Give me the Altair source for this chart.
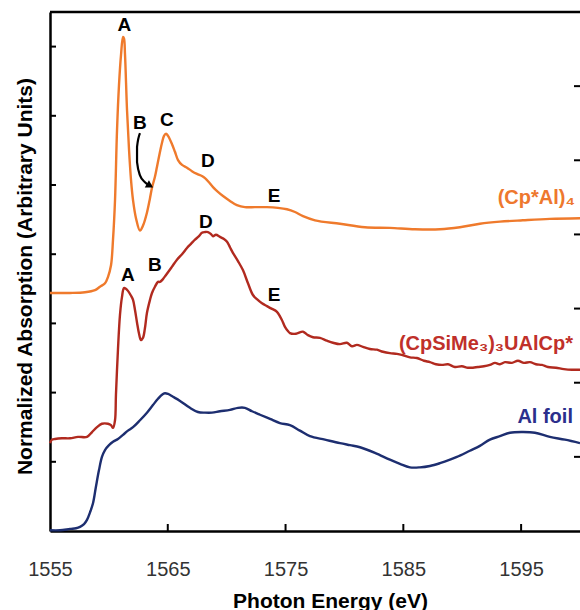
import altair as alt
import pandas as pd

FONT = "Liberation Sans"

# Photon energy (eV) and normalized absorption for each sample
cpal_ev = [1555.00, 1556.70, 1557.97, 1558.82, 1559.24, 1559.67, 1559.92, 1560.18, 1560.35, 1560.52,
           1560.69, 1560.86, 1561.03, 1561.20, 1561.28, 1561.37, 1561.54, 1561.71, 1561.88, 1562.05,
           1562.30, 1562.64, 1562.89, 1563.23, 1563.49, 1563.66, 1563.91, 1564.08, 1564.34, 1564.51,
           1564.68, 1564.85, 1565.02, 1565.36, 1565.61, 1565.87, 1566.21, 1566.63, 1567.05, 1567.48,
           1567.90, 1568.16, 1568.50, 1568.84, 1569.26, 1569.69, 1570.28, 1570.87, 1571.55, 1572.40,
           1573.42, 1574.35, 1575.12, 1575.80, 1576.48, 1577.50, 1579.62, 1581.74, 1583.86, 1585.98,
           1588.11, 1589.80, 1591.50, 1593.20, 1595.15, 1597.44, 1600.00]
cpal_abs = [3.44, 3.44, 3.45, 3.48, 3.53, 3.58, 3.67, 3.84, 4.21, 4.78,
            5.79, 6.45, 6.88, 7.14, 7.12, 6.88, 6.08, 5.51, 5.07, 4.78,
            4.52, 4.34, 4.41, 4.60, 4.81, 4.96, 5.12, 5.26, 5.48, 5.61,
            5.71, 5.74, 5.71, 5.59, 5.48, 5.36, 5.29, 5.25, 5.20, 5.16,
            5.13, 5.10, 5.04, 4.97, 4.90, 4.84, 4.77, 4.71, 4.68, 4.68,
            4.68, 4.67, 4.65, 4.61, 4.55, 4.49, 4.44, 4.39, 4.38, 4.36,
            4.36, 4.39, 4.44, 4.47, 4.49, 4.51, 4.52]

u_ev = [1555.00, 1555.17, 1555.42, 1556.02, 1556.70, 1557.38, 1558.14, 1558.57, 1558.99, 1559.41,
        1559.92, 1560.18, 1560.35, 1560.52, 1560.60, 1560.77, 1560.94, 1561.11, 1561.28, 1561.45,
        1561.62, 1561.88, 1562.05, 1562.22, 1562.39, 1562.56, 1562.72, 1562.89, 1563.06, 1563.23,
        1563.49, 1563.66, 1563.91, 1564.17, 1564.34, 1564.59, 1564.85, 1565.02, 1565.36, 1565.78,
        1566.21, 1566.63, 1566.97, 1567.31, 1567.65, 1567.90, 1568.16, 1568.41, 1568.67, 1568.84,
        1569.09, 1569.43, 1569.77, 1570.03, 1570.28, 1570.53, 1570.96, 1571.38, 1571.81, 1572.23,
        1572.57, 1573.00, 1573.42, 1573.85, 1574.19, 1574.35, 1574.69, 1574.95, 1575.20, 1575.37,
        1575.88, 1576.48, 1576.90, 1577.33, 1577.92, 1578.51, 1579.02, 1579.62, 1580.21, 1580.64,
        1581.06, 1581.57, 1582.16, 1582.76, 1583.27, 1583.86, 1584.46, 1584.97, 1585.56, 1586.15,
        1586.75, 1587.26, 1587.77, 1588.28, 1588.79, 1589.38, 1589.97, 1590.48, 1590.91, 1591.33,
        1591.84, 1592.35, 1592.78, 1593.20, 1593.63, 1594.22, 1594.73, 1595.24, 1595.75, 1596.26,
        1596.77, 1597.28, 1597.95, 1598.63, 1599.32, 1600.00]
u_abs = [1.27, 1.32, 1.33, 1.34, 1.34, 1.36, 1.36, 1.43, 1.50, 1.55,
         1.55, 1.53, 1.49, 1.60, 1.97, 2.62, 3.12, 3.38, 3.51, 3.50,
         3.47, 3.40, 3.34, 3.19, 3.01, 2.85, 2.76, 2.79, 2.93, 3.15,
         3.34, 3.44, 3.53, 3.60, 3.60, 3.64, 3.70, 3.74, 3.82, 3.92,
         4.00, 4.09, 4.15, 4.21, 4.26, 4.31, 4.32, 4.32, 4.29, 4.26,
         4.28, 4.25, 4.22, 4.18, 4.10, 4.02, 3.90, 3.77, 3.58, 3.41,
         3.35, 3.29, 3.25, 3.21, 3.18, 3.15, 3.05, 2.95, 2.89, 2.86,
         2.85, 2.88, 2.83, 2.80, 2.79, 2.75, 2.72, 2.70, 2.72, 2.67,
         2.69, 2.66, 2.63, 2.62, 2.59, 2.57, 2.56, 2.54, 2.51, 2.50,
         2.46, 2.44, 2.41, 2.40, 2.41, 2.37, 2.38, 2.36, 2.36, 2.37,
         2.38, 2.40, 2.43, 2.41, 2.44, 2.43, 2.46, 2.43, 2.44, 2.41,
         2.40, 2.37, 2.36, 2.34, 2.33, 2.33]

foil_ev = [1555.00, 1555.85, 1556.70, 1557.21, 1557.55, 1557.89, 1558.14, 1558.40, 1558.65, 1558.90,
           1559.16, 1559.41, 1559.67, 1560.01, 1560.35, 1560.77, 1561.20, 1561.62, 1562.05, 1562.64,
           1563.23, 1563.74, 1564.17, 1564.51, 1564.76, 1565.02, 1565.44, 1566.04, 1566.88, 1567.56,
           1568.16, 1568.75, 1569.43, 1570.28, 1570.96, 1571.55, 1572.15, 1572.83, 1573.68, 1574.52,
           1575.37, 1576.22, 1577.07, 1578.34, 1579.62, 1580.47, 1581.32, 1582.59, 1583.86, 1584.71,
           1585.56, 1586.41, 1587.26, 1588.11, 1588.96, 1589.55, 1590.65, 1591.50, 1592.35, 1593.20,
           1594.05, 1595.15, 1596.17, 1597.44, 1598.72, 1600.00]
foil_abs = [0.01, 0.01, 0.03, 0.04, 0.06, 0.10, 0.16, 0.27, 0.40, 0.64,
            0.88, 1.07, 1.17, 1.24, 1.29, 1.33, 1.39, 1.45, 1.50, 1.60,
            1.71, 1.82, 1.91, 1.97, 1.99, 1.98, 1.94, 1.88, 1.78, 1.72,
            1.71, 1.71, 1.73, 1.75, 1.78, 1.78, 1.73, 1.68, 1.62, 1.56,
            1.53, 1.45, 1.37, 1.32, 1.27, 1.24, 1.21, 1.13, 1.03, 0.97,
            0.92, 0.92, 0.94, 0.98, 1.03, 1.07, 1.16, 1.23, 1.32, 1.37,
            1.42, 1.43, 1.42, 1.36, 1.32, 1.27]

series_names = ["(Cp*Al)4", "(CpSiMe3)3UAlCp*", "Al foil"]
series_colors = ["#EF7A2C", "#B12A1F", "#1D2E70"]

# Peak letters: energy, absorption, letter
peak_ev = [1561.32, 1562.64, 1564.93, 1568.41, 1574.02, 1561.62, 1563.91, 1568.24, 1574.02]
peak_abs = [7.31, 5.90, 5.94, 5.35, 4.84, 3.70, 3.84, 4.47, 3.41]
peak_letters = ["A", "B", "C", "D", "E", "A", "B", "D", "E"]

# Sample names written at the right-hand end of each trace
name_ev = [1599.57, 1599.40, 1599.40]
name_abs = [4.73, 2.62, 1.56]
name_text = ["(Cp*Al)\u2084", "(CpSiMe\u2083)\u2083UAlCp*", "Al foil"]
name_colors = ["#EE782E", "#C0302A", "#2B2F8C"]

# Curved arrow pointing from letter B to the shoulder of the (Cp*Al)4 trace
arrow_ev = [1562.64, 1562.39, 1562.39, 1562.64, 1563.06, 1563.40]
arrow_abs = [5.75, 5.55, 5.33, 5.14, 5.04, 5.00]
arrow_head_ev = [1563.49]
arrow_head_abs = [4.99]

x_tick_values = [1555, 1565, 1575, 1585, 1595]
inner_x_ticks = [1565, 1575, 1585, 1595]
left_ticks = [1, 2, 3, 4, 5, 6, 7]
right_ticks = [1, 2, 3, 4, 5, 6]

W, H = 530, 519

curves = pd.concat([
    pd.DataFrame({"energy": cpal_ev, "absorption": cpal_abs, "sample": series_names[0]}),
    pd.DataFrame({"energy": u_ev, "absorption": u_abs, "sample": series_names[1]}),
    pd.DataFrame({"energy": foil_ev, "absorption": foil_abs, "sample": series_names[2]}),
])
peaks = pd.DataFrame({"energy": peak_ev, "absorption": peak_abs, "letter": peak_letters})
names = pd.DataFrame({"energy": name_ev, "absorption": name_abs, "text": name_text, "colour": name_colors})
arrow = pd.DataFrame({"energy": arrow_ev, "absorption": arrow_abs, "step": list(range(len(arrow_ev)))})
arrow_head = pd.DataFrame({"energy": arrow_head_ev, "absorption": arrow_head_abs})

x_scale = alt.Scale(domain=[1555, 1600], nice=False, zero=False)
y_scale = alt.Scale(domain=[0, 7.5], nice=False, zero=False)

x_axis = alt.Axis(
    values=x_tick_values, format="d", grid=False, ticks=False, tickSize=0,
    labelFont=FONT, labelFontSize=20, labelColor="#333333", labelPadding=28, labelFlush=False,
    domainColor="black", domainWidth=2.5,
    title="Photon Energy (eV)", titleFont=FONT, titleFontSize=21, titleFontWeight="bold",
    titleColor="black", titleX=280, titleY=76, titleAlign="center", titleBaseline="alphabetic",
)
y_axis = alt.Axis(
    labels=False, ticks=False, tickSize=0, grid=False,
    domainColor="black", domainWidth=2.5,
    title="Normalized Absorption (Arbitrary Units)", titleFont=FONT, titleFontSize=21,
    titleFontWeight="bold", titleColor="black", titleX=-25, titleY=264, titleAngle=270,
    titleAlign="center", titleBaseline="middle",
)

lines = alt.Chart(curves).mark_line(strokeWidth=2.4, interpolate="catmull-rom").encode(
    x=alt.X("energy:Q", scale=x_scale, axis=x_axis),
    y=alt.Y("absorption:Q", scale=y_scale, axis=y_axis),
    color=alt.Color("sample:N", scale=alt.Scale(domain=series_names, range=series_colors), legend=None),
)

top_border = alt.Chart(pd.DataFrame({"edge": ["top"]})).mark_rule(
    color="black", strokeWidth=2.5
).encode(x=alt.value(0), x2=alt.value(W), y=alt.value(0))

bottom_ticks = alt.Chart(pd.DataFrame({"energy": inner_x_ticks})).mark_rule(
    color="black", strokeWidth=2
).encode(x=alt.X("energy:Q", scale=x_scale), y=alt.value(H), y2=alt.value(H - 7))

left_tick_marks = alt.Chart(pd.DataFrame({"absorption": left_ticks})).mark_rule(
    color="black", strokeWidth=2
).encode(y=alt.Y("absorption:Q", scale=y_scale), x=alt.value(0), x2=alt.value(6))

peak_text = alt.Chart(peaks).mark_text(
    font=FONT, fontSize=19, fontWeight="bold", color="black", align="center", baseline="middle"
).encode(
    x=alt.X("energy:Q", scale=x_scale), y=alt.Y("absorption:Q", scale=y_scale), text="letter:N"
)

name_text_marks = alt.Chart(names).mark_text(
    font=FONT, fontSize=20, fontWeight="bold", align="right", baseline="alphabetic"
).encode(
    x=alt.X("energy:Q", scale=x_scale), y=alt.Y("absorption:Q", scale=y_scale),
    text="text:N", color=alt.Color("colour:N", scale=None),
)

arrow_line = alt.Chart(arrow).mark_line(color="black", strokeWidth=2.2, interpolate="monotone").encode(
    x=alt.X("energy:Q", scale=x_scale), y=alt.Y("absorption:Q", scale=y_scale), order="step:Q"
)
arrow_tip = alt.Chart(arrow_head).mark_point(
    shape="triangle-right", angle=30, filled=True, size=70, color="black", opacity=1
).encode(x=alt.X("energy:Q", scale=x_scale), y=alt.Y("absorption:Q", scale=y_scale))

main = alt.layer(
    lines, top_border, bottom_ticks, left_tick_marks, peak_text, name_text_marks, arrow_line, arrow_tip
)

# Right-hand ticks use their own spacing
right_tick_marks = alt.Chart(pd.DataFrame({"level": right_ticks})).mark_rule(
    color="black", strokeWidth=2
).encode(
    y=alt.Y("level:Q", scale=alt.Scale(domain=[0, 7], nice=False, zero=False), axis=None),
    x=alt.value(W), x2=alt.value(W - 6),
)

chart = alt.layer(main, right_tick_marks).resolve_scale(y="independent").properties(
    width=W, height=H,
    autosize=alt.AutoSizeParams(type="none"),
    padding={"left": 50, "top": 12, "right": 0, "bottom": 79},
    background="white",
).configure_view(stroke="#cfcfcf", strokeWidth=1)

chart.save("out.html", embed_options={"renderer": "svg", "actions": False})
